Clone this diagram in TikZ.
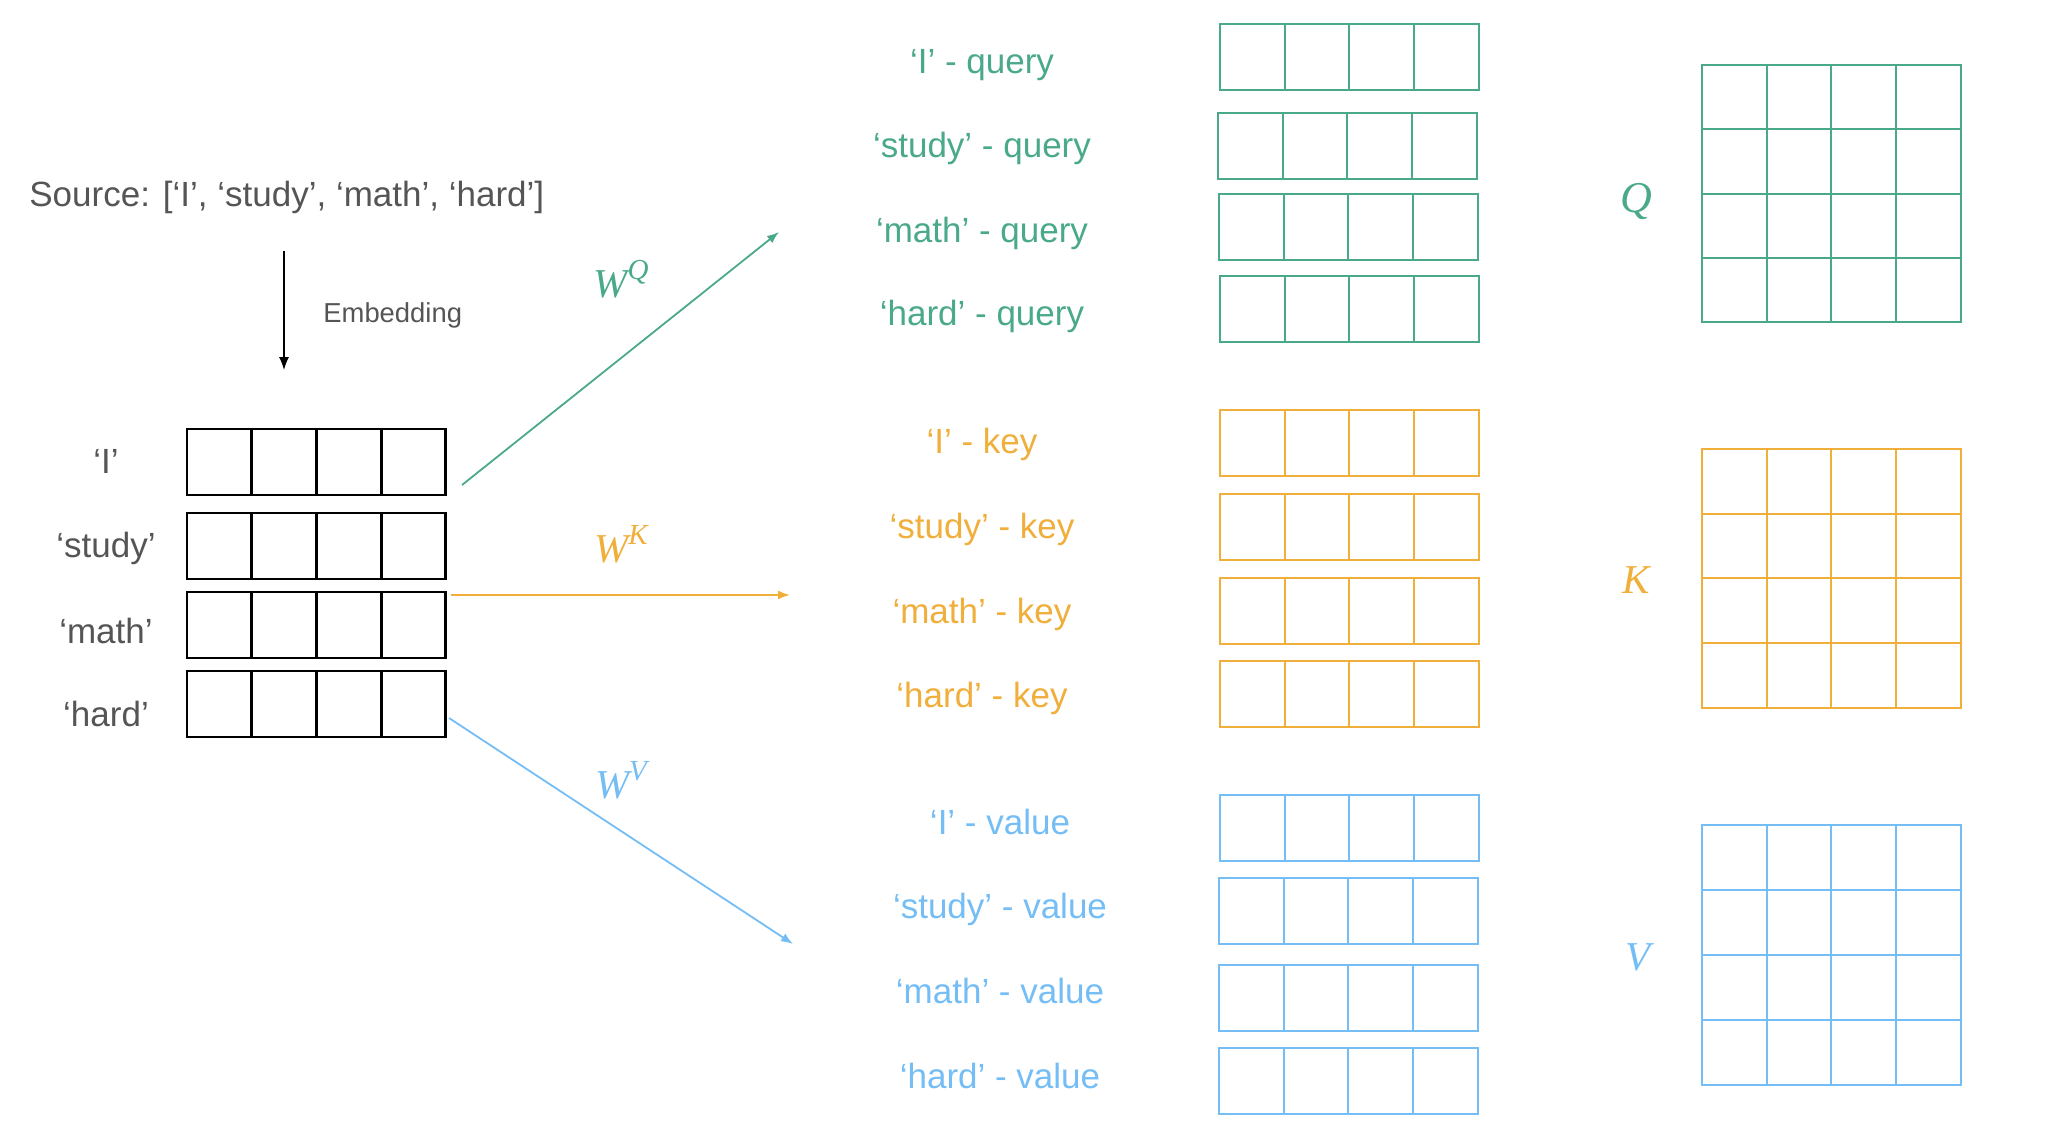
\documentclass[tikz,border=0pt]{standalone}
\usepackage{fontspec}
\setmainfont{Liberation Sans}
\newfontfamily\wfont{Liberation Serif}
\usepackage{tikz}
\usetikzlibrary{arrows.meta}
\definecolor{qgreen}{HTML}{4BA98B}
\definecolor{korange}{HTML}{F0AE3A}
\definecolor{vblue}{HTML}{74BDF5}
\definecolor{txtgray}{HTML}{555555}
\tikzstyle{cell}    = [rectangle, draw, inner sep=0pt, minimum width=32.35pt, minimum height=33pt]
\tikzstyle{embcell} = [cell, draw=black, line width=1.4pt]
\tikzstyle{qcell}   = [cell, draw=qgreen, line width=1pt]
\tikzstyle{kcell}   = [cell, draw=korange, line width=1pt]
\tikzstyle{vcell}   = [cell, draw=vblue, line width=1pt]
\tikzstyle{word}    = [anchor=base, inner sep=0pt, font=\fontsize{17.5}{21}\selectfont]
\tikzstyle{wlabel}  = [anchor=base, inner sep=0pt, font=\wfont\itshape\fontsize{20.5}{24}\selectfont]
\tikzstyle{proj}    = [draw, -{Latex[length=6pt,width=4.5pt]}, line width=0.9pt]
% one row of four cells: style, name, left x, top y
\newcommand{\cellrow}[4]{\foreach \c in {1,...,4} {\node[#1] (#2-\c) at ({#3+(\c-0.5)*64.7},{#4+33}) {};}}
% a 4x4 grid: style, name, left x, top y, cell height
\newcommand{\cellgrid}[5]{\foreach \r in {1,...,4} {\foreach \c in {1,...,4} {\node[#1, minimum height=#5*0.5pt] (#2-\r-\c) at ({#3+(\c-0.5)*64.7},{#4+(\r-0.5)*#5}) {};}}}
% weight label with its superscript
\newcommand{\wsup}[1]{W\raisebox{0.42em}{\fontsize{14.5}{16}\selectfont #1}}

\begin{document}
\begin{tikzpicture}[x=0.5pt, y=-0.5pt]
	\useasboundingbox (0,0) rectangle (2068,1146);
	% source and embedding
	\node [word, anchor=base west, text=txtgray] (src) at (29,206) {Source: [‘I’, ‘study’, ‘math’, ‘hard’]};
	\coordinate (emtop) at (284,251);
	\coordinate (embot) at (284,370);
	\draw [-{Latex[length=6.5pt,width=5pt]}, line width=0.65pt] (emtop) -- (embot);
	\node [word, anchor=base west, text=txtgray, font=\fontsize{13.7}{16}\selectfont] (emb) at (323,322) {Embedding};

	% embedding rows
	\cellrow{embcell}{e1}{187}{429}
	\cellrow{embcell}{e2}{187}{513}
	\cellrow{embcell}{e3}{187}{592}
	\cellrow{embcell}{e4}{187}{671}
	\node [word, text=txtgray] (w1) at (106,473) {‘I’};
	\node [word, text=txtgray] (w2) at (106,557) {‘study’};
	\node [word, text=txtgray] (w3) at (106,643) {‘math’};
	\node [word, text=txtgray] (w4) at (106,726) {‘hard’};

	% projections
	\coordinate (qfrom) at (462,485);
	\coordinate (qto)   at (779,232);
	\coordinate (kfrom) at (451,595);
	\coordinate (kto)   at (790,595);
	\coordinate (vfrom) at (449,718);
	\coordinate (vto)   at (793,944);
	\path [proj, qgreen]  (qfrom) -- (qto);
	\path [proj, korange] (kfrom) -- (kto);
	\path [proj, vblue]   (vfrom) -- (vto);
	\node [wlabel, text=qgreen]  (wq) at (621,297) {\wsup{Q}};
	\node [wlabel, text=korange] (wk) at (621,562) {\wsup{K}};
	\node [wlabel, text=vblue]   (wv) at (621,798) {\wsup{V}};

	% queries
	\node [word, text=qgreen] (q1) at (982,73)  {‘I’ - query};
	\node [word, text=qgreen] (q2) at (982,157) {‘study’ - query};
	\node [word, text=qgreen] (q3) at (982,242) {‘math’ - query};
	\node [word, text=qgreen] (q4) at (982,325) {‘hard’ - query};
	\cellrow{qcell}{qr1}{1220}{24}
	\cellrow{qcell}{qr2}{1218}{113}
	\cellrow{qcell}{qr3}{1219}{194}
	\cellrow{qcell}{qr4}{1220}{276}

	% keys
	\node [word, text=korange] (k1) at (982,453) {‘I’ - key};
	\node [word, text=korange] (k2) at (982,538) {‘study’ - key};
	\node [word, text=korange] (k3) at (982,623) {‘math’ - key};
	\node [word, text=korange] (k4) at (982,707) {‘hard’ - key};
	\cellrow{kcell}{kr1}{1220}{410}
	\cellrow{kcell}{kr2}{1220}{494}
	\cellrow{kcell}{kr3}{1220}{578}
	\cellrow{kcell}{kr4}{1220}{661}

	% values
	\node [word, text=vblue] (v1) at (1000,834)  {‘I’ - value};
	\node [word, text=vblue] (v2) at (1000,918)  {‘study’ - value};
	\node [word, text=vblue] (v3) at (1000,1003) {‘math’ - value};
	\node [word, text=vblue] (v4) at (1000,1088) {‘hard’ - value};
	\cellrow{vcell}{vr1}{1220}{795}
	\cellrow{vcell}{vr2}{1219}{878}
	\cellrow{vcell}{vr3}{1219}{965}
	\cellrow{vcell}{vr4}{1219}{1048}

	% matrices
	\cellgrid{qcell}{Qm}{1702}{65}{64.3}
	\cellgrid{kcell}{Km}{1702}{449}{64.7}
	\cellgrid{vcell}{Vm}{1702}{825}{65}
	\node [wlabel, text=qgreen, font=\wfont\itshape\fontsize{22}{24}\selectfont] (Q) at (1636,212) {Q};
	\node [wlabel, text=korange] (K) at (1636,593) {K};
	\node [wlabel, text=vblue]   (V) at (1638,970) {V};
\end{tikzpicture}
\end{document}
